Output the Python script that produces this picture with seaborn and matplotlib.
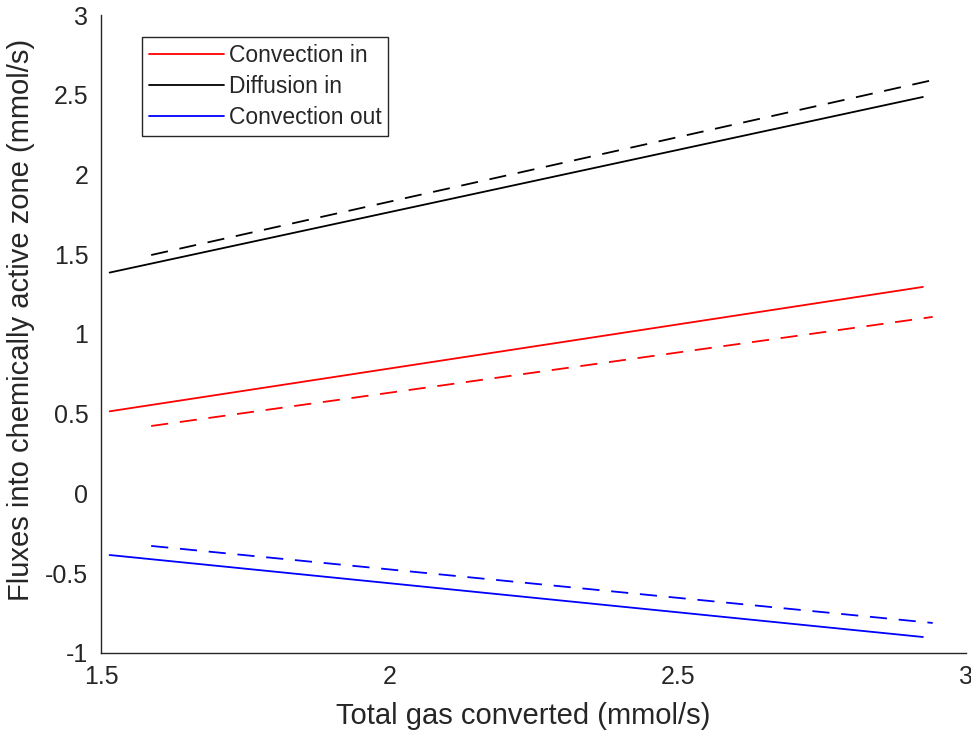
import matplotlib
matplotlib.use("Agg")
import matplotlib.pyplot as plt
import seaborn as sns
import pandas as pd

# Total gas converted (mmol/s): endpoints of the two model runs
x_solid = [1.515, 2.925]
x_dashed = [1.587, 2.942]

# Fluxes into the chemically active zone (mmol/s)
conv_in_solid = [0.515, 1.295]
conv_in_dashed = [0.423, 1.107]
diff_in_solid = [1.385, 2.486]
diff_in_dashed = [1.495, 2.592]
conv_out_solid = [-0.386, -0.900]
conv_out_dashed = [-0.329, -0.812]

series_names = ["Convection in", "Diffusion in", "Convection out"]
series_colors = ["#ff0000", "#000000", "#0000ff"]

x_ticks = [1.5, 2, 2.5, 3]
x_tick_labels = ["1.5", "2", "2.5", "3"]
y_ticks = [-1, -0.5, 0, 0.5, 1, 1.5, 2, 2.5, 3]
y_tick_labels = ["-1", "-0.5", "0", "0.5", "1", "1.5", "2", "2.5", "3"]

sns.set_style("white")
plt.rcParams["font.family"] = ["Liberation Sans", "DejaVu Sans"]

fig = plt.figure(figsize=(9.71, 7.32), dpi=100)
ax = fig.add_axes([0.104, 0.108, 0.891, 0.8715])

solid_sets = [conv_in_solid, diff_in_solid, conv_out_solid]
dashed_sets = [conv_in_dashed, diff_in_dashed, conv_out_dashed]

for name, color, ys in zip(series_names, series_colors, solid_sets):
    df = pd.DataFrame({"x": x_solid, "y": ys})
    sns.lineplot(data=df, x="x", y="y", ax=ax, color=color, lw=1.3,
                 label=name, sort=False)

for color, ys in zip(series_colors, dashed_sets):
    df = pd.DataFrame({"x": x_dashed, "y": ys})
    line = sns.lineplot(data=df, x="x", y="y", ax=ax, color=color, lw=1.3,
                        sort=False, legend=False)
    line.lines[-1].set_dashes((9.5, 6.5))

ax.set_xlim(1.5, 3)
ax.set_ylim(-1, 3)
ax.set_xticks(x_ticks, x_tick_labels)
ax.set_yticks(y_ticks, y_tick_labels)

tick_color = "#262626"
for side in ["top", "right"]:
    ax.spines[side].set_visible(False)
for side in ["left", "bottom"]:
    ax.spines[side].set_color(tick_color)
    ax.spines[side].set_linewidth(1.0)

ax.tick_params(axis="both", direction="in", length=6, width=1.0,
               colors=tick_color, labelsize=18, pad=9)

ax.set_xlabel("Total gas converted (mmol/s)", fontsize=21, color=tick_color,
              va="center")
ax.set_ylabel("Fluxes into chemically active zone (mmol/s)", fontsize=21,
              color=tick_color, va="center")
ax.xaxis.set_label_coords(0.488, -0.099)
ax.yaxis.set_label_coords(-0.092, 0.522)

leg = ax.legend(loc="upper left", bbox_to_anchor=(0.047, 0.965), fontsize=16.5,
                frameon=True, fancybox=False, framealpha=1, edgecolor=tick_color,
                handlelength=3.3, handletextpad=0.2, borderpad=0.3,
                labelspacing=0.34, borderaxespad=0)
leg.get_frame().set_linewidth(1.0)
for t in leg.get_texts():
    t.set_color(tick_color)

fig.savefig("out.png", dpi=100)
